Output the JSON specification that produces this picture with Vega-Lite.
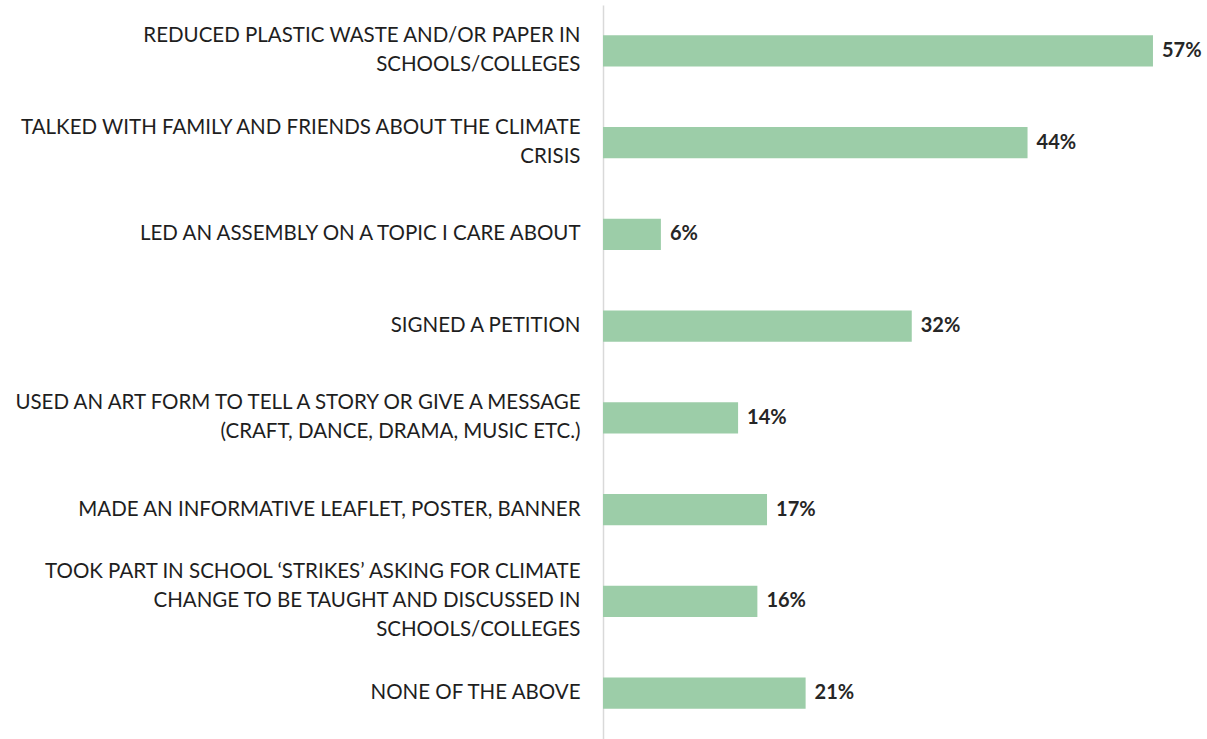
{
  "$schema": "https://vega.github.io/schema/vega-lite/v6.json",
  "autosize": "none",
  "width": 604,
  "height": 734,
  "padding": {"left": 603, "top": 5, "right": 0, "bottom": 0},
  "background": "white",
  "config": {"view": {"stroke": null}, "font": "Lato"},
  "data": {"values": [
    {"action": "REDUCED PLASTIC WASTE AND/OR PAPER IN|SCHOOLS/COLLEGES", "pct": 0.57},
    {"action": "TALKED WITH FAMILY AND FRIENDS ABOUT THE CLIMATE|CRISIS", "pct": 0.44},
    {"action": "LED AN ASSEMBLY ON A TOPIC I CARE ABOUT", "pct": 0.06},
    {"action": "SIGNED A PETITION", "pct": 0.32},
    {"action": "USED AN ART FORM TO TELL A STORY OR GIVE A MESSAGE|(CRAFT, DANCE, DRAMA, MUSIC ETC.)", "pct": 0.14},
    {"action": "MADE AN INFORMATIVE LEAFLET, POSTER, BANNER", "pct": 0.17},
    {"action": "TOOK PART IN SCHOOL ‘STRIKES’ ASKING FOR CLIMATE|CHANGE TO BE TAUGHT AND DISCUSSED IN|SCHOOLS/COLLEGES", "pct": 0.16},
    {"action": "NONE OF THE ABOVE", "pct": 0.21}
  ]},
  "encoding": {
    "y": {
      "field": "action",
      "type": "nominal",
      "sort": null,
      "scale": {"paddingInner": 0.66, "paddingOuter": 0.33},
      "axis": {
        "title": null,
        "ticks": false,
        "domain": true,
        "domainColor": "#d9d9d9",
        "domainWidth": 1.5,
        "labelExpr": "split(datum.value, '|')",
        "labelFont": "Lato",
        "labelFontSize": 20.5,
        "labelColor": "#1e1e1e",
        "labelPadding": 23,
        "labelLineHeight": 29,
        "labelLimit": 0,
        "labelOffset": {"condition": [
          {"test": "length(split(datum.value, '|')) == 3", "value": -29},
          {"test": "length(split(datum.value, '|')) == 2", "value": -14.5}
        ], "value": 0}
      }
    },
    "x": {
      "field": "pct",
      "type": "quantitative",
      "scale": {"domain": [0, 0.626]},
      "axis": null
    }
  },
  "layer": [
    {"mark": {"type": "bar", "color": "#9ccda8"}},
    {
      "mark": {"type": "text", "align": "left", "baseline": "middle", "dx": 9, "font": "Lato", "fontSize": 20, "fontWeight": "bold", "color": "#262626"},
      "encoding": {"text": {"field": "pct", "type": "quantitative", "format": ".0%"}, "x": {"field": "pct", "type": "quantitative"}}
    }
  ]
}
